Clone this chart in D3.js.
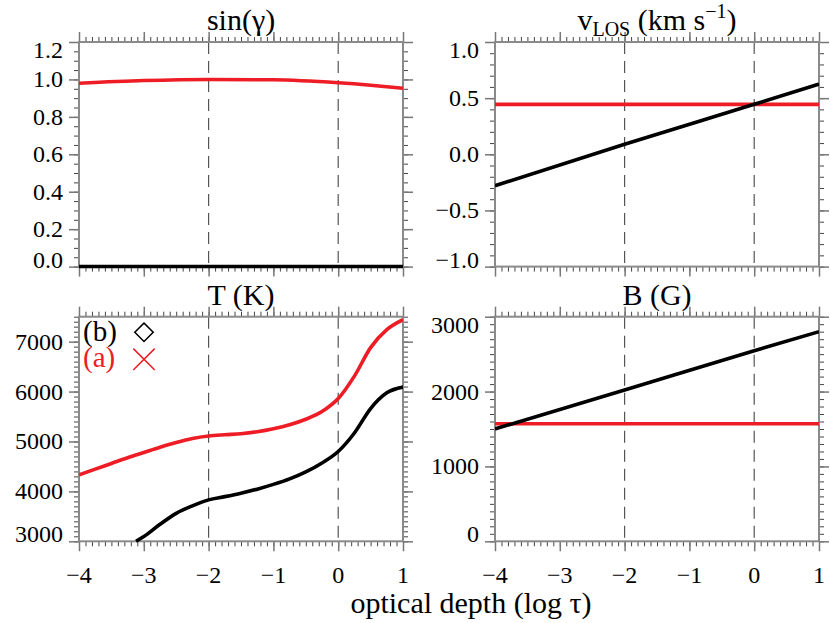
<!DOCTYPE html>
<html>
<head>
<meta charset="utf-8">
<script src="https://cdn.jsdelivr.net/npm/d3@7"></script>
<style>
    body { margin: 0; background: #fff; }
</style>
</head>
<body>
<svg id="chart"></svg>
<script>
// optical depth grid (log tau)
const tauFull = [-4, 1];
const tauT = [-4, -3.75, -3.5, -3.25, -3, -2.75, -2.5, -2.25, -2, -1.75, -1.5, -1.25, -1, -0.75, -0.5, -0.25, 0, 0.25, 0.5, 0.75, 1];
const tauTb = [-3.12, -3, -2.75, -2.5, -2.25, -2, -1.75, -1.5, -1.25, -1, -0.75, -0.5, -0.25, 0, 0.25, 0.5, 0.75, 1];
const tauSin = [-4, -3, -2, -1, 0, 0.5, 1];
const tauLin = [-4, -2, 0, 1];

// sin(gamma)
const sinA = [0.980, 0.994, 1.0, 0.998, 0.982, 0.969, 0.953];
const sinB = [0, 0, 0, 0, 0, 0, 0];

// v_LOS (km/s)
const vA = [0.445, 0.445];
const vB = [-0.28, 0.09, 0.445, 0.625];

// temperature (K)
const tA = [4330, 4445, 4560, 4675, 4780, 4885, 4980, 5060, 5110, 5135, 5155, 5195, 5255, 5335, 5445, 5600, 5860, 6310, 6880, 7240, 7440];
const tB = [3000, 3094, 3340, 3560, 3710, 3830, 3895, 3965, 4045, 4140, 4250, 4390, 4570, 4800, 5170, 5660, 5975, 6090];

// field strength (G)
const bA = [1570, 1570];
const bB = [1500, 2020, 2545, 2800];

const xTicks = [-4, -3, -2, -1, 0, 1];
const dashedAt = [-2, 0];

const red = '#ee1c25';

const svg = d3.select('#chart')
    .attr('width', 830)
    .attr('height', 623)
    .attr('font-family', "'Liberation Serif', 'Times New Roman', 'DejaVu Serif', serif");

const defs = svg.append('defs');

const panelW = 324;
const panelH = 224.6;

const panels = [
    { id: 'sin', x0: 79, y0: 42, domain: [0, 1.2], ticks: [0, 0.2, 0.4, 0.6, 0.8, 1.0, 1.2], minor: 0.05, fmt: d3.format('.1f'), xLabels: false,
      series: [{ t: tauSin, v: sinA, c: red }, { t: tauSin, v: sinB, c: '#000' }] },
    { id: 'vlos', x0: 495, y0: 42, domain: [-1, 1], ticks: [-1, -0.5, 0, 0.5, 1], minor: 0.1, fmt: d3.format('.1f'), xLabels: false,
      series: [{ t: tauFull, v: vA, c: red }, { t: tauLin, v: vB, c: '#000' }] },
    { id: 'temp', x0: 79, y0: 316.7, domain: [3000, 7500], ticks: [3000, 4000, 5000, 6000, 7000], minor: 100, fmt: d3.format('d'), xLabels: true,
      series: [{ t: tauT, v: tA, c: red }, { t: tauTb, v: tB, c: '#000' }] },
    { id: 'bfield', x0: 495, y0: 316.7, domain: [0, 3000], ticks: [0, 1000, 2000, 3000], minor: 100, fmt: d3.format('d'), xLabels: true,
      series: [{ t: tauFull, v: bA, c: red }, { t: tauLin, v: bB, c: '#000' }] },
];

const titles = {
    sin: 'sin(γ)',
    temp: 'T (K)',
    bfield: 'B (G)',
};

const minus = s => s.replace('-', '\u2212');

// generate minor tick values between domain ends
function minorTicks(domain, step) {
    const out = [];
    const n = Math.round((domain[1] - domain[0]) / step);
    for (let i = 0; i <= n; i++) out.push(domain[0] + i * step);
    return out;
}

panels.forEach(p => {
    const g = svg.append('g').attr('transform', `translate(${p.x0},${p.y0})`);

    const x = d3.scaleLinear().domain([-4, 1]).range([0, panelW]);
    const y = d3.scaleLinear().domain(p.domain).range([panelH, 0]);

    defs.append('clipPath').attr('id', 'clip-' + p.id)
        .append('rect').attr('x', 0).attr('y', -2).attr('width', panelW).attr('height', panelH + 4);

    // dashed reference depths
    g.selectAll('line.ref')
        .data(dashedAt)
        .enter()
        .append('line')
        .attr('x1', d => x(d)).attr('x2', d => x(d))
        .attr('y1', 0).attr('y2', panelH)
        .attr('stroke', '#555')
        .attr('stroke-width', 1.2)
        .attr('stroke-dasharray', '12,7');

    // axes: minor then major
    const xMinor = minorTicks([-4, 1], 0.1);
    const yMinor = minorTicks(p.domain, p.minor);
    const axes = [
        [d3.axisBottom(x), `translate(0,${panelH})`, xMinor, xTicks],
        [d3.axisTop(x), 'translate(0,0)', xMinor, xTicks],
        [d3.axisLeft(y), 'translate(0,0)', yMinor, p.ticks],
        [d3.axisRight(y), `translate(${panelW},0)`, yMinor, p.ticks],
    ];
    axes.forEach(([ax, tr, mn, mj]) => {
        g.append('g').attr('transform', tr)
            .call(ax.tickValues(mn).tickSize(5).tickFormat('').tickSizeOuter(0))
            .call(s => s.select('.domain').remove())
            .call(s => s.selectAll('line').attr('stroke', '#444').attr('stroke-width', 1));
        g.append('g').attr('transform', tr)
            .call(ax.tickValues(mj).tickSize(10).tickFormat('').tickSizeOuter(0))
            .call(s => s.select('.domain').remove())
            .call(s => s.selectAll('line').attr('stroke', '#777').attr('stroke-width', 1.5));
    });

    // frame
    g.append('rect')
        .attr('width', panelW).attr('height', panelH)
        .attr('fill', 'none')
        .attr('stroke', '#8a8a8a')
        .attr('stroke-width', 2);

    // y tick labels, kept inside the frame height
    g.selectAll('text.ylab')
        .data(p.ticks)
        .enter()
        .append('text')
        .attr('x', -16)
        .attr('y', d => Math.min(Math.max(y(d) + 8, 16), panelH + 1))
        .attr('text-anchor', 'end')
        .attr('font-size', 24)
        .text(d => minus(p.fmt(d)));

    if (p.xLabels) {
        g.selectAll('text.xlab')
            .data(xTicks)
            .enter()
            .append('text')
            .attr('x', d => x(d))
            .attr('y', panelH + 42)
            .attr('text-anchor', 'middle')
            .attr('font-size', 24)
            .text(d => minus(String(d)));
    }

    // data curves
    const line = d3.line()
        .x(d => x(d[0]))
        .y(d => y(d[1]))
        .curve(d3.curveMonotoneX);

    p.series.forEach(s => {
        g.append('path')
            .datum(s.t.map((t, i) => [t, s.v[i]]))
            .attr('clip-path', `url(#clip-${p.id})`)
            .attr('d', line)
            .attr('fill', 'none')
            .attr('stroke', s.c)
            .attr('stroke-width', 3.6);
    });

    // title
    const title = g.append('text')
        .attr('x', panelW / 2)
        .attr('y', p.y0 < 100 ? 29.5 - p.y0 : 305 - p.y0)
        .attr('text-anchor', 'middle')
        .attr('font-size', 30);
    if (p.id === 'vlos') {
        title.append('tspan').text('v');
        title.append('tspan').attr('font-size', 20).attr('dy', 6).text('LOS');
        title.append('tspan').attr('dy', -6).text(' (km s');
        title.append('tspan').attr('font-size', 20).attr('dy', -12).text('\u22121');
        title.append('tspan').attr('dy', 12).text(')');
    } else {
        title.text(titles[p.id]);
    }

    // legend in temperature panel
    if (p.id === 'temp') {
        g.append('text').attr('x', 4).attr('y', 24).attr('font-size', 29).attr('fill', '#000').text('(b)');
        g.append('text').attr('x', 4).attr('y', 50).attr('font-size', 29).attr('fill', red).text('(a)');
        g.append('path')
            .attr('d', d3.symbol(d3.symbolSquare, 170))
            .attr('transform', 'translate(65,15.6) rotate(45)')
            .attr('fill', 'none')
            .attr('stroke', '#000')
            .attr('stroke-width', 1.5);
        g.append('path')
            .attr('d', d3.symbol(d3.symbolX, 300))
            .attr('transform', 'translate(65,42.6)')
            .attr('fill', 'none')
            .attr('stroke', red)
            .attr('stroke-width', 1.5);
    }
});

// shared x title
svg.append('text')
    .attr('x', 471)
    .attr('y', 613)
    .attr('text-anchor', 'middle')
    .attr('font-size', 30)
    .text('optical depth (log τ)');
</script>
</body>
</html>
